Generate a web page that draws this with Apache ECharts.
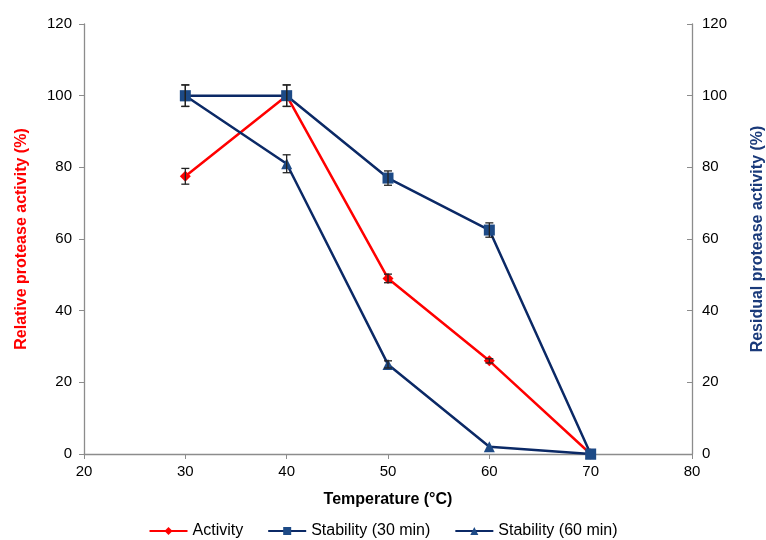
<!DOCTYPE html>
<html><head><meta charset="utf-8">
<script src="https://cdn.jsdelivr.net/npm/echarts@6/dist/echarts.min.js"></script>
<style>html,body{margin:0;padding:0;background:#fff}#c{width:766px;height:540px}</style>
</head><body><div id="c"></div>
<script>
var temps = [30, 40, 50, 60, 70];
var activity = [77.5, 100, 49, 26, 0];
var activityErr = [2.2, 3, 1.2, 0.6, 0];
var stab30 = [100, 100, 77, 62.5, 0];
var stab30Err = [3, 3, 2, 2, 0];
var stab60 = [100, 81, 25, 2, 0];
var stab60Err = [3, 2.5, 1, 0, 0];
var yTicks = [0, 20, 40, 60, 80, 100, 120];
var xTicks = [20, 30, 40, 50, 60, 70, 80];

function pairs(v) { return temps.map(function (t, i) { return [t, v[i]]; }); }
function errs(v, e) {
  var out = [];
  temps.forEach(function (t, i) { if (e[i] > 0) out.push([t, v[i] - e[i], v[i] + e[i]]); });
  return out;
}
function errRender(params, api) {
  var x = api.value(0);
  var lo = api.coord([x, api.value(1)]);
  var hi = api.coord([x, api.value(2)]);
  var w = 4;
  var st = { stroke: '#222', lineWidth: 1.3 };
  return { type: 'group', children: [
    { type: 'line', shape: { x1: lo[0], y1: lo[1], x2: hi[0], y2: hi[1] }, style: st },
    { type: 'line', shape: { x1: lo[0] - w, y1: lo[1], x2: lo[0] + w, y2: lo[1] }, style: st },
    { type: 'line', shape: { x1: hi[0] - w, y1: hi[1], x2: hi[0] + w, y2: hi[1] }, style: st }
  ] };
}
var navyLine = '#0b2966';
var navyMark = '#1d4a86';
var font = 'Liberation Sans, Arial, Helvetica, sans-serif';
var chart = echarts.init(document.getElementById('c'), null, { renderer: 'canvas' });
chart.setOption({
  animation: false,
  textStyle: { fontFamily: font },
  grid: { left: 84, right: 74, top: 24, bottom: 86, containLabel: false, outerBoundsMode: 'none' },
  legend: {
    bottom: -4, left: 'center', itemWidth: 38, itemHeight: 10, itemGap: 24,
    textStyle: { fontSize: 16, color: '#000', fontFamily: font },
    data: ['Activity', 'Stability (30 min)', 'Stability (60 min)']
  },
  xAxis: {
    type: 'value', min: xTicks[0], max: xTicks[xTicks.length - 1], interval: 10,
    name: 'Temperature (°C)', nameLocation: 'middle', nameGap: 38,
    nameTextStyle: { fontSize: 16, fontWeight: 'bold', color: '#000' },
    axisLine: { lineStyle: { color: '#8c8c8c', width: 1.3 } },
    axisTick: { show: true, inside: false, length: 5, lineStyle: { color: '#8c8c8c' } },
    axisLabel: { fontSize: 15, color: '#000', margin: 10 },
    splitLine: { show: false }
  },
  yAxis: [{
    type: 'value', min: yTicks[0], max: yTicks[yTicks.length - 1], interval: 20, position: 'left',
    name: 'Relative protease activity (%)', nameLocation: 'middle', nameGap: 54, nameRotate: 90,
    nameTextStyle: { fontSize: 16, fontWeight: 'bold', color: '#ff0000' },
    axisLine: { show: true, lineStyle: { color: '#8c8c8c', width: 1.3 } },
    axisTick: { show: true, inside: false, length: 5, lineStyle: { color: '#8c8c8c' } },
    axisLabel: { fontSize: 15, color: '#000', margin: 12 },
    splitLine: { show: false }
  }, {
    type: 'value', min: yTicks[0], max: yTicks[yTicks.length - 1], interval: 20, position: 'right',
    name: 'Residual protease activity (%)', nameLocation: 'middle', nameGap: 58, nameRotate: 90,
    nameTextStyle: { fontSize: 16, fontWeight: 'bold', color: '#1a3a7a' },
    axisLine: { show: true, lineStyle: { color: '#8c8c8c', width: 1.3 } },
    axisTick: { show: true, inside: true, length: 5, lineStyle: { color: '#8c8c8c' } },
    axisLabel: { fontSize: 15, color: '#000', margin: 10 },
    splitLine: { show: false }
  }],
  series: [{
    name: 'Activity', type: 'line', yAxisIndex: 0, data: pairs(activity),
    symbol: 'diamond', symbolSize: 11, z: 3,
    lineStyle: { color: '#ff0000', width: 2.5 }, itemStyle: { color: '#ff0000' }
  }, {
    name: 'Stability (30 min)', type: 'line', yAxisIndex: 1, data: pairs(stab30),
    symbol: 'rect', symbolSize: 11, z: 3,
    lineStyle: { color: navyLine, width: 2.5 }, itemStyle: { color: navyMark }
  }, {
    name: 'Stability (60 min)', type: 'line', yAxisIndex: 1, data: pairs(stab60),
    symbol: 'triangle', symbolSize: 11, z: 3,
    lineStyle: { color: navyLine, width: 2.5 }, itemStyle: { color: navyMark }
  }, {
    type: 'custom', yAxisIndex: 0, data: errs(activity, activityErr), renderItem: errRender, z: 4, silent: true
  }, {
    type: 'custom', yAxisIndex: 1, data: errs(stab30, stab30Err), renderItem: errRender, z: 4, silent: true
  }, {
    type: 'custom', yAxisIndex: 1, data: errs(stab60, stab60Err), renderItem: errRender, z: 4, silent: true
  }]
});
</script></body></html>
